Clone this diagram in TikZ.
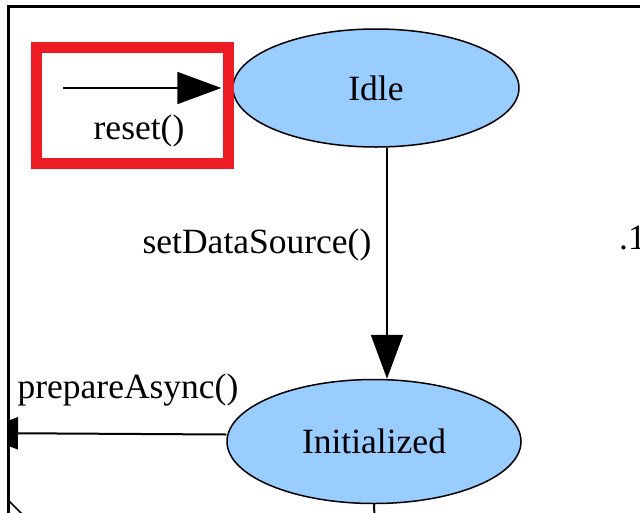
\documentclass[tikz,border=0pt]{standalone}
\usepackage{fontspec}
\setmainfont{Liberation Serif}
\usetikzlibrary{shapes.geometric,arrows.meta,positioning}
\definecolor{stateblue}{RGB}{153,204,255}
\definecolor{resetred}{RGB}{237,28,36}

\begin{document}
\begin{tikzpicture}[
			x=1pt, y=-1pt,
			state/.style={ellipse, draw, line width=1.5pt, fill=stateblue, inner sep=0pt, font=\fontsize{35.5}{40}\selectfont},
			resetbox/.style={rectangle, draw=resetred, line width=11pt, minimum width=192pt, minimum height=116pt},
			lbl/.style={inner sep=0pt, font=\fontsize{35.5}{40}\selectfont},
			edge/.style={line width=2pt, -{Triangle[length=44pt,width=32pt]}},
			plain/.style={line width=2pt}
		]
		\useasboundingbox (0,0) rectangle (640,512);
		\clip (0,0) rectangle (640,512);

		\begin{scope}
		\clip (10,8) rectangle (640,512);
		% States
		\node[state, minimum width=286pt, minimum height=118pt] (idle) at (376,88) {Idle};
		\node[state, minimum width=294pt, minimum height=124pt, below=231pt of idle, xshift=-2pt] (init) {Initialized};

		% Reset box
		\node[resetbox] (rst) at (132,105) {};
		\coordinate (rststart) at (63,88);
		\coordinate (prepout) at (-26,433);
		\coordinate (bottomout) at (375,530);
		\coordinate (diagA) at (4,496);
		\coordinate (diagB) at (28,520);

		% Connections
		\draw[edge, shorten >=11pt] (rststart) -- (idle.west);
		\draw[edge] ([xshift=11pt]idle.south) -- ([xshift=13pt]init.north);
		\draw[edge] ([yshift=7pt]init.west) -- (prepout);
		\draw[plain] (init.south) -- (bottomout);
		\draw[line width=1.5pt] (diagA) -- (diagB);

		% Labels
		\node[lbl] (rstlbl) at (139,131) {reset()};
		\node[lbl] (setlbl) at (257,245) {setDataSource()};
		\node[lbl] (preplbl) at (128,390) {prepareAsync()};
		\node[lbl, anchor=west] (cutlbl) at (619,238) {.1c};
		\end{scope}

		% Frame
		\draw[line width=3pt] (8.5,700) -- (8.5,6.5) -- (700,6.5);
	\end{tikzpicture}
\end{document}
